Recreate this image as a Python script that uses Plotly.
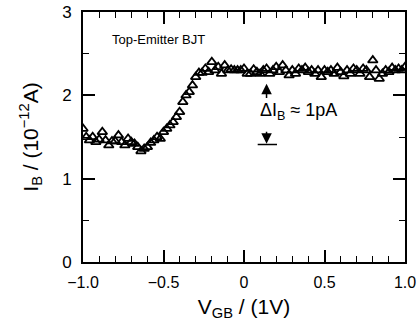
import plotly.graph_objects as go

vgb = [round(-1.0 + 0.02 * i, 2) for i in range(101)]
ib = [
    1.60, 1.50, 1.46, 1.50, 1.44, 1.47, 1.56, 1.46, 1.40, 1.45,
    1.45, 1.52, 1.44, 1.40, 1.48, 1.44, 1.42, 1.38, 1.33, 1.36,
    1.38, 1.43, 1.46, 1.50, 1.48, 1.56, 1.60, 1.64, 1.68, 1.74,
    1.80, 1.92, 2.00, 2.04, 2.12, 2.22, 2.27, 2.27, 2.32, 2.28,
    2.40, 2.30, 2.34, 2.26, 2.36, 2.30, 2.31, 2.30, 2.30, 2.30,
    2.32, 2.26, 2.26, 2.31, 2.28, 2.26, 2.30, 2.32, 2.26, 2.30,
    2.34, 2.28, 2.36, 2.30, 2.24, 2.30, 2.26, 2.32, 2.30, 2.33,
    2.28, 2.30, 2.26, 2.30, 2.22, 2.30, 2.28, 2.30, 2.26, 2.33,
    2.28, 2.23, 2.30, 2.26, 2.32, 2.30, 2.26, 2.32, 2.30, 2.22,
    2.42, 2.30, 2.20, 2.26, 2.30, 2.28, 2.33, 2.30, 2.32, 2.30,
    2.34,
]
xtick_vals = [-1.0, -0.5, 0.0, 0.5, 1.0]
xtick_text = ["\u22121.0", "\u22120.5", "0", "0.5", "1.0"]
ytick_vals = [0, 1, 2, 3]
ytick_text = ["0", "1", "2", "3"]

FONT = "Liberation Sans, Arial, Helvetica, sans-serif"

fig = go.Figure()
fig.add_trace(go.Scatter(
    x=vgb, y=ib, mode="markers",
    marker=dict(symbol="triangle-up-open", size=8.5, color="black",
                line=dict(width=1.8, color="black")),
    showlegend=False, hoverinfo="skip",
))

ax_common = dict(
    showline=True, linewidth=2, linecolor="black", mirror="ticks",
    ticks="inside", tickwidth=1.5, tickcolor="black", showgrid=False,
    zeroline=False, automargin=False,
)

fig.update_xaxes(
    range=[-1.0, 1.0], tickvals=xtick_vals, ticktext=xtick_text, ticklen=12,
    tickfont=dict(family=FONT, size=16, color="black"), ticklabelstandoff=5,
    minor=dict(dtick=0.1, ticklen=6, ticks="inside", tickwidth=1.2, tickcolor="black", showgrid=False),
    title=dict(text="V<sub>GB</sub> / (1V)", font=dict(family=FONT, size=21, color="black"), standoff=9),
    **ax_common,
)
fig.update_yaxes(
    range=[0, 3], tickvals=ytick_vals, ticktext=ytick_text, ticklen=12,
    tickfont=dict(family=FONT, size=17, color="black"), ticklabelstandoff=6,
    minor=dict(dtick=0.5, ticklen=6, ticks="inside", tickwidth=1.2, tickcolor="black", showgrid=False),
    title=dict(text="I<sub>B</sub> / (10<sup>\u221212</sup>A)", font=dict(family=FONT, size=21, color="black"), standoff=18),
    **ax_common,
)

fig.add_annotation(x=-0.83, y=2.67, xref="x", yref="y", text="Top-Emitter BJT",
                   showarrow=False, xanchor="left", yanchor="middle",
                   font=dict(family=FONT, size=13, color="black"))
fig.add_annotation(x=0.09, y=1.81, xref="x", yref="y", text="\u0394I<sub>B</sub> \u2248 1pA",
                   showarrow=False, xanchor="left", yanchor="middle",
                   font=dict(family=FONT, size=18, color="black"))
# up arrow
fig.add_annotation(x=0.14, y=2.14, ax=0.14, ay=1.95, xref="x", yref="y", axref="x", ayref="y",
                   text="", showarrow=True, arrowhead=2, arrowsize=1.4, arrowwidth=1.5, arrowcolor="black")
# down arrow
fig.add_annotation(x=0.14, y=1.42, ax=0.14, ay=1.58, xref="x", yref="y", axref="x", ayref="y",
                   text="", showarrow=True, arrowhead=2, arrowsize=1.4, arrowwidth=1.5, arrowcolor="black")
fig.add_shape(type="line", x0=0.085, x1=0.205, y0=1.41, y1=1.41, xref="x", yref="y",
              line=dict(color="black", width=1.5))

fig.update_layout(
    width=417, height=331,
    margin=dict(l=83, r=12, t=12, b=69),
    plot_bgcolor="white", paper_bgcolor="white",
    font=dict(family=FONT, color="black"),
)

fig.write_html("out.html", config={"displayModeBar": False},
               post_script="document.body.style.margin='0';")
